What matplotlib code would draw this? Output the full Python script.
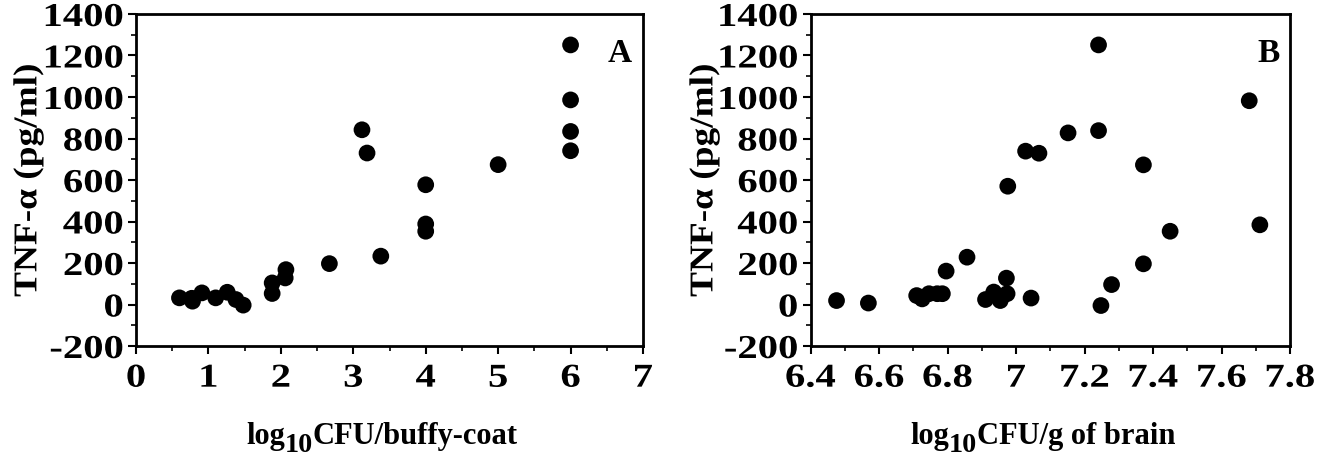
import matplotlib
matplotlib.use("Agg")
import matplotlib.pyplot as plt
from matplotlib.ticker import MultipleLocator
from matplotlib.patheffects import AbstractPathEffect
from matplotlib.transforms import Affine2D, IdentityTransform

plt.rcParams['font.family'] = ['Liberation Serif', 'DejaVu Serif']
plt.rcParams['font.weight'] = 'bold'

# Panel A: log10 CFU / buffy-coat vs TNF-alpha
a_x = [0.60, 0.77, 0.78, 0.91, 1.10, 1.26, 1.38, 1.48, 1.88, 1.88, 2.06, 2.07,
       2.67, 3.12, 3.19, 3.38, 4.0, 4.0, 4.0, 5.0, 6.0, 6.0, 6.0, 6.0]
a_y = [32, 30, 16, 56, 32, 59, 24, -3, 104, 53, 128, 168,
       197, 842, 730, 233, 577, 388, 353, 674, 1251, 986, 834, 741]

# Panel B: log10 CFU / g of brain vs TNF-alpha
b_x = [6.476, 6.569, 6.710, 6.726, 6.746, 6.770, 6.785, 6.796, 6.857, 6.911,
       6.935, 6.954, 6.972, 6.974, 7.044, 7.241, 7.681, 7.152, 7.241, 7.028,
       7.067, 6.976, 7.372, 7.712, 7.450, 7.372, 7.279, 7.248]
b_y = [19, 7, 43, 27, 52, 52, 52, 161, 228, 24,
       60, 19, 127, 52, 31, 1251, 982, 827, 838, 739,
       729, 570, 673, 384, 353, 196, 96, -5]

y_ticks = [-200, 0, 200, 400, 600, 800, 1000, 1200, 1400]
a_xticks = [0, 1, 2, 3, 4, 5, 6, 7]
b_xticks = [6.4, 6.6, 6.8, 7.0, 7.2, 7.4, 7.6, 7.8]
b_xticklabels = ['6.4', '6.6', '6.8', '7', '7.2', '7.4', '7.6', '7.8']


class HStretch(AbstractPathEffect):
    """Stretch glyphs along the text baseline around an anchor."""
    def __init__(self, sx, anchor='center'):
        super().__init__()
        self.sx = sx
        self.anchor = anchor

    def draw_path(self, renderer, gc, tpath, affine, rgbFace=None):
        ext = tpath.get_extents()
        if self.anchor == 'right':
            cx = ext.x1
        elif self.anchor == 'left':
            cx = ext.x0
        else:
            cx = 0.5 * (ext.x0 + ext.x1)
        t = Affine2D().translate(-cx, 0).scale(self.sx, 1.0).translate(cx, 0) + affine
        renderer.draw_path(gc, tpath, t, rgbFace)


W, H = 1344, 456
fig = plt.figure(figsize=(W / 100, H / 100), dpi=100)

axA = fig.add_axes([136 / W, 1 - 347 / H, (643 - 136) / W, (347 - 15) / H])
axB = fig.add_axes([810.5 / W, 1 - 347 / H, (1290 - 810.5) / W, (347 - 15) / H])

tick_fs = 24
ylab_fs = 24
xlab_fs = 22
stretch = 1.22

panels = [
    (axA, a_x, a_y, a_xticks, [str(t) for t in a_xticks], (0, 7), 0.5,
     'CFU/buffy-coat', 'A', -0.213, 382),
    (axB, b_x, b_y, b_xticks, b_xticklabels, (6.4, 7.8), 0.1,
     'CFU/g of brain', 'B', -0.222, 1043),
]

for ax, xs, ys, xt, xtl, xlim, minor, xtail, letter, ylx, xlcx in panels:
    ax.scatter(xs, ys, s=145, color='black', edgecolors='none', zorder=3)
    ax.set_xlim(*xlim)
    ax.set_ylim(-200, 1400)
    ax.set_xticks(xt)
    ax.set_xticklabels(xtl, fontsize=tick_fs, fontweight='bold')
    ax.set_yticks(y_ticks)
    ax.set_yticklabels([str(t) for t in y_ticks], fontsize=tick_fs, fontweight='bold')
    ax.xaxis.set_minor_locator(MultipleLocator(minor))
    ax.yaxis.set_minor_locator(MultipleLocator(100))
    ax.tick_params(axis='both', which='major', direction='out', length=6, width=1.5, pad=3)
    ax.tick_params(axis='both', which='minor', direction='out', length=3.5, width=1.2)
    ax.tick_params(axis='x', which='major', pad=6)
    for lab in ax.get_yticklabels():
        lab.set_path_effects([HStretch(stretch, 'right')])
    for lab in ax.get_xticklabels():
        lab.set_path_effects([HStretch(stretch, 'center')])
    for sp in ax.spines.values():
        sp.set_linewidth(2)
    ax.set_ylabel('TNF-α (pg/ml)', fontsize=ylab_fs, fontweight='bold')
    ax.yaxis.label.set_va('center')
    ax.yaxis.set_label_coords(ylx, 0.5)
    ax.yaxis.label.set_path_effects([HStretch(1.12, 'center')])
    ax.text(0.955, 0.885, letter, transform=ax.transAxes, fontsize=tick_fs,
            fontweight='bold', ha='center', va='center')

# x labels built as log + lowered "10" + rest, positioned in pixels
fig.canvas.draw()
renderer = fig.canvas.get_renderer()
base_y = H - 444
for ax, xs, ys, xt, xtl, xlim, minor, xtail, letter, ylx, xlcx in panels:
    parts = [('log', 1.0, 0), ('10', 0.92, 8), (xtail, 1.0, 0)]
    objs = []
    widths = []
    for s, f, dy in parts:
        t = fig.text(0, base_y - dy, s, fontsize=xlab_fs * f, fontweight='bold',
                     ha='left', va='baseline', transform=IdentityTransform())
        objs.append(t)
        widths.append(t.get_window_extent(renderer).width)
    x = xlcx - sum(widths) / 2
    for t, w, (s, f, dy) in zip(objs, widths, parts):
        t.set_x(x)
        x += w

fig.savefig('out.png', dpi=100)
